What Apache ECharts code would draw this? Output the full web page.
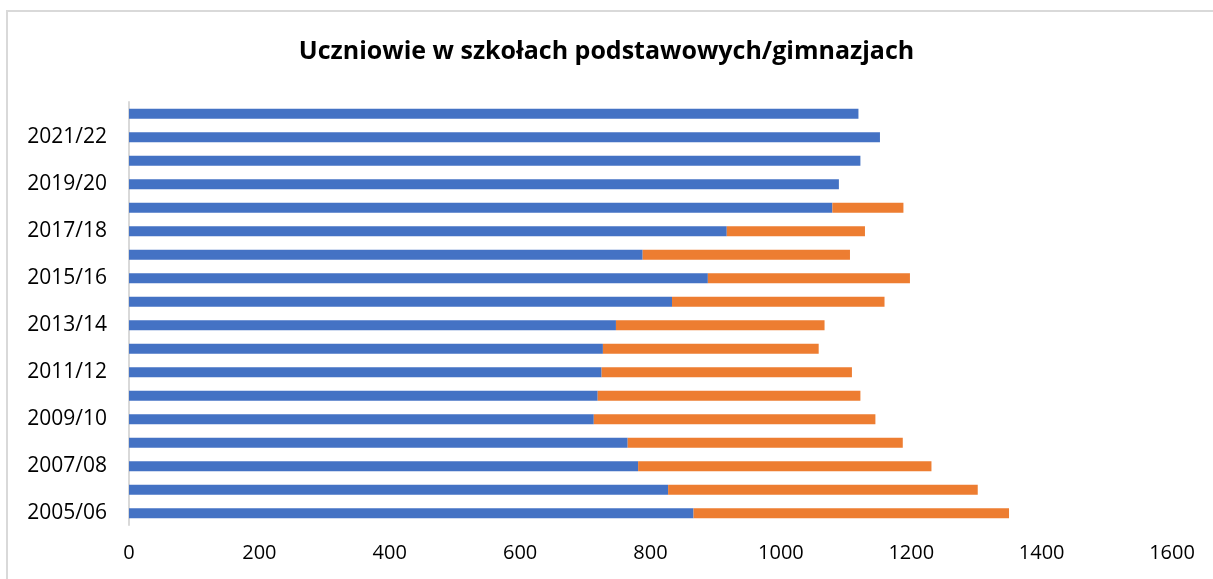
<!DOCTYPE html>
<html>
<head>
<meta charset="utf-8">
<script src="https://cdn.jsdelivr.net/npm/echarts@6/dist/echarts.min.js"></script>
<style>
  html, body { margin: 0; padding: 0; background: #fff; }
  #chart { width: 1213px; height: 579px; }
</style>
</head>
<body>
<div id="chart"></div>
<script>
const years = [
  "2005/06", "2006/07", "2007/08", "2008/09", "2009/10", "2010/11",
  "2011/12", "2012/13", "2013/14", "2014/15", "2015/16", "2016/17",
  "2017/18", "2018/19", "2019/20", "2020/21", "2021/22", "2022/23"
];
// uczniowie szkół podstawowych
const primary = [866, 827, 781, 765, 713, 719, 725, 727, 747, 833, 888, 788, 917, 1079, 1089, 1122, 1152, 1119];
// uczniowie gimnazjów
const middle = [484, 475, 450, 422, 432, 403, 384, 331, 320, 326, 310, 318, 212, 109, 0, 0, 0, 0];
const xTicks = [0, 200, 400, 600, 800, 1000, 1200, 1400, 1600];

const labelFont = '"Open Sans", sans-serif';
const chart = echarts.init(document.getElementById("chart"));

chart.setOption({
  animation: false,
  title: {
    text: "Uczniowie w szkołach podstawowych/gimnazjach",
    left: "center",
    top: 34,
    textStyle: {
      fontFamily: labelFont,
      fontWeight: "bold",
      fontSize: 25,
      color: "#000"
    }
  },
  graphic: [
    {
      type: "rect",
      shape: { x: 7, y: 11, width: 1230, height: 600 },
      style: { fill: "none", stroke: "#d9d9d9", lineWidth: 2 },
      silent: true
    }
  ],
  grid: {
    left: 129,
    right: 41,
    top: 102,
    bottom: 54
  },
  xAxis: {
    type: "value",
    min: xTicks[0],
    max: xTicks[xTicks.length - 1],
    interval: 200,
    axisLine: { show: false },
    axisTick: { show: false },
    splitLine: { show: false },
    axisLabel: {
      margin: 18,
      fontFamily: labelFont,
      fontSize: 20,
      color: "#000",
      formatter: (value) => String(value)
    }
  },
  yAxis: {
    type: "category",
    data: years,
    axisLine: { lineStyle: { color: "#d9d9d9", width: 2 } },
    axisTick: { show: false },
    axisLabel: {
      interval: 1,
      margin: 22,
      fontFamily: labelFont,
      fontSize: 21,
      color: "#000"
    }
  },
  series: [
    {
      name: "Szkoły podstawowe",
      type: "bar",
      stack: "total",
      barWidth: 10,
      data: primary,
      itemStyle: { color: "#4472c4" }
    },
    {
      name: "Gimnazja",
      type: "bar",
      stack: "total",
      barWidth: 10,
      data: middle,
      itemStyle: { color: "#ed7d31" }
    }
  ]
});
</script>
</body>
</html>
